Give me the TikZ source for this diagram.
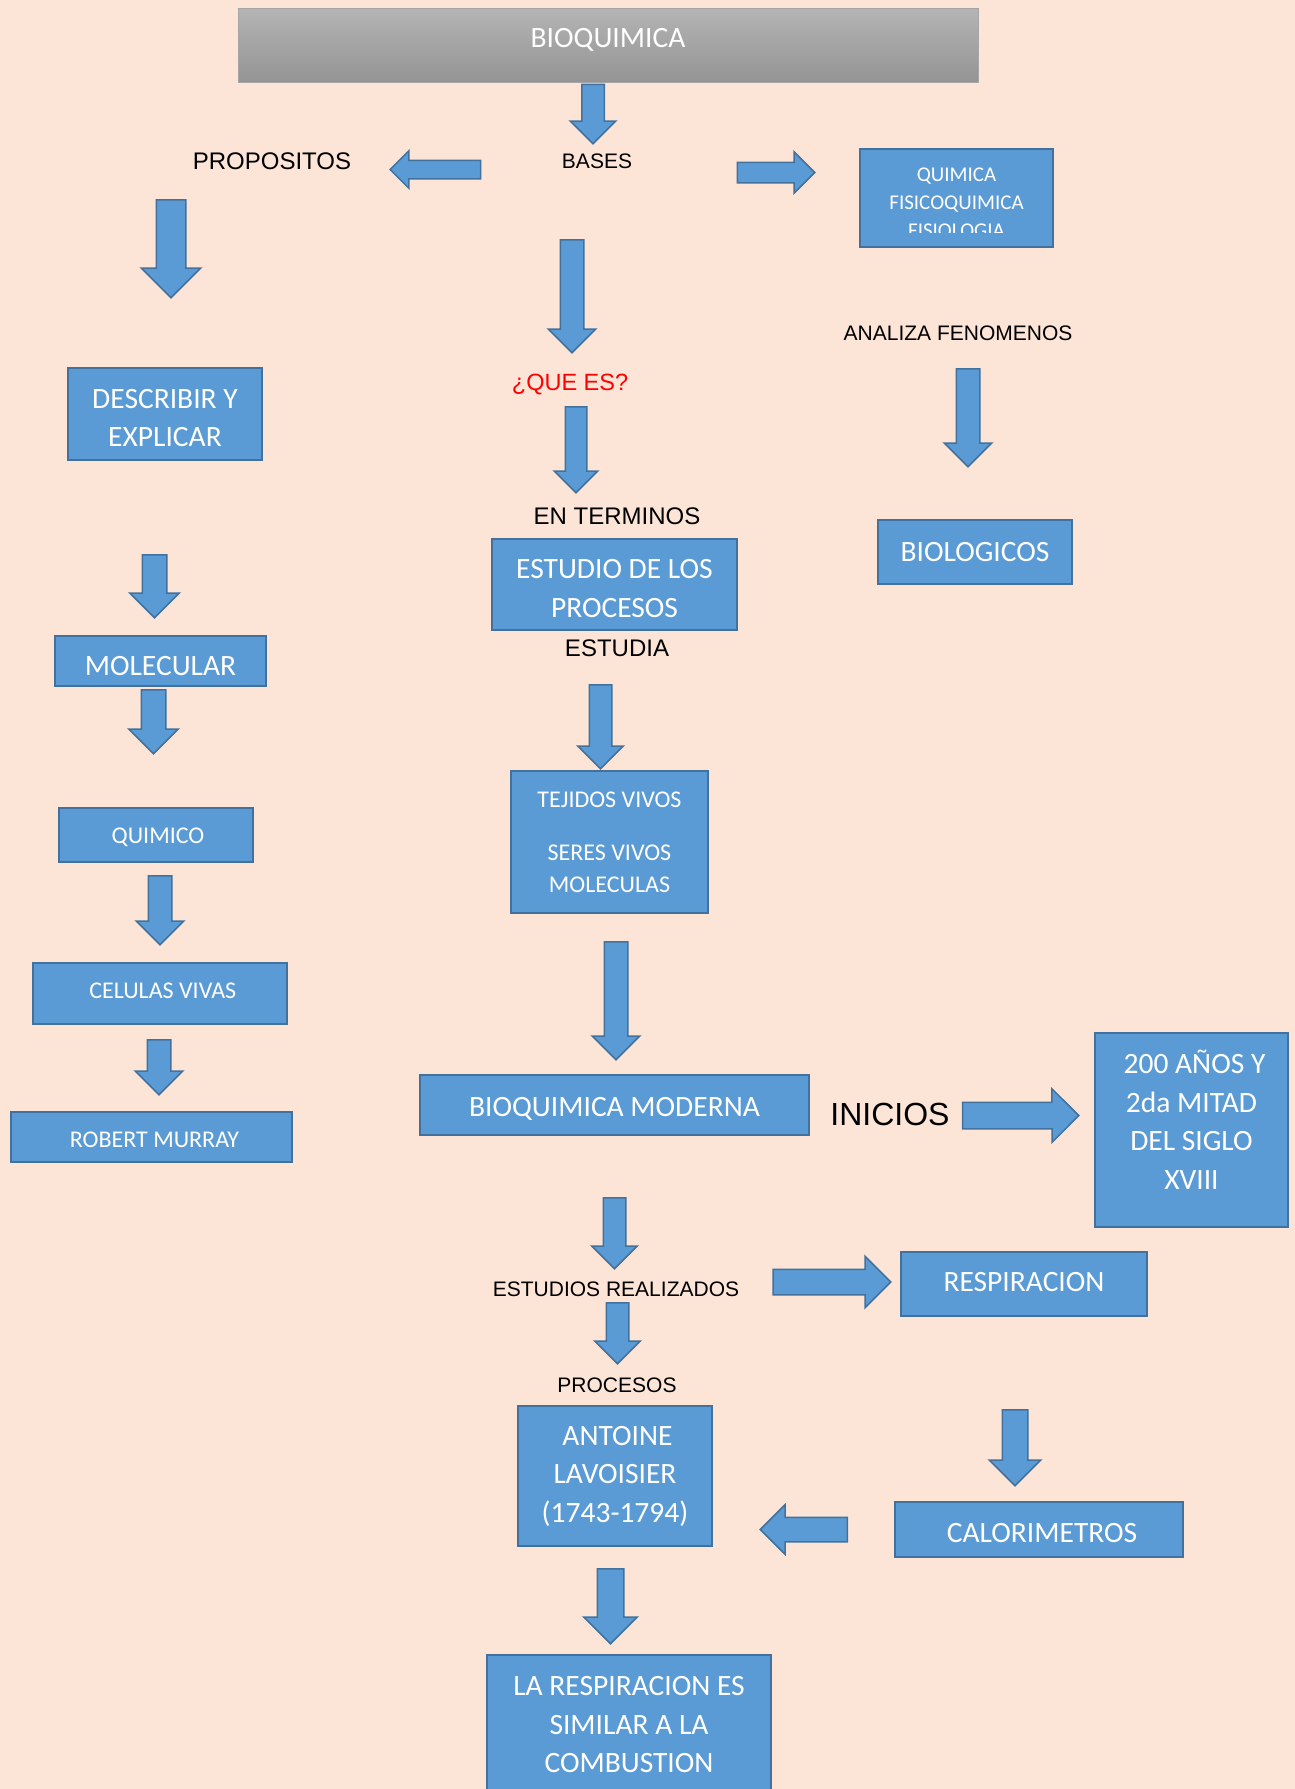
\documentclass[tikz,border=0pt]{standalone}
\usepackage{fontspec}
\newfontfamily\boxfont{Carlito}
\newfontfamily\labfont{Liberation Sans}
\usetikzlibrary{shapes.arrows, calc}

\definecolor{bgpeach}{HTML}{FCE4D6}
\definecolor{boxfill}{HTML}{5B9BD5}
\definecolor{boxline}{HTML}{41719C}
\definecolor{titletop}{HTML}{B4B4B4}
\definecolor{titlebot}{HTML}{949494}
\definecolor{titleline}{HTML}{A6A6A6}

\begin{document}
\begin{tikzpicture}[x=1pt, y=-1pt,
    bluebox/.style={rectangle, draw=boxline, fill=boxfill, line width=2pt, text=white, align=center, inner sep=0pt},
    titlebox/.style={rectangle, draw=titleline, top color=titletop, bottom color=titlebot, line width=1pt, text=white, inner sep=0pt},
    bigtxt/.style={font=\boxfont\fontsize{29.5}{38.5}\selectfont},
    smalltxt/.style={font=\boxfont\fontsize{24}{32}\selectfont},
    lab/.style={font=\labfont\fontsize{#1}{#1}\selectfont, inner sep=0pt, anchor=base},
    fatarrow/.style={single arrow, draw=boxline, fill=boxfill, line width=1.5pt, inner sep=0pt, minimum width=0pt, anchor=tail},
    fat/.style={to path={let \p1=(\tikztostart), \p2=(\tikztotarget),
        \n1={atan2(\y2-\y1,\x2-\x1)}, \n2={veclen(\x2-\x1,\y2-\y1)} in
        node[fatarrow, inner ysep={#1/2}, single arrow head extend={#1/2+1}, minimum height=\n2, rotate=\n1] at (\tikztostart) {} (\tikztotarget)}}
]

\useasboundingbox (0,0) rectangle (1295,1789);
\clip (0,0) rectangle (1295,1789);
\fill[bgpeach] (0,0) rectangle (1295,1789);

% Nodes
\node[titlebox, bigtxt, minimum width=740, minimum height=74] (title) at (608,45) {BIOQUIMICA\rule[-13.5pt]{0pt}{13.5pt}};

\node[lab=21] (bases) at (597,168.5) {BASES};
\node[lab=24] (prop) at (272,169) {PROPOSITOS};
\node[lab=21] (anal) at (958,340) {ANALIZA FENOMENOS};
\node[lab=23.5, text=red] (quees) at (570,390) {¿QUE ES?};
\node[lab=24] (term) at (617,524) {EN TERMINOS};
\node[lab=24] (estudia) at (617,656.7) {ESTUDIA};
\node[lab=32] (inicios) at (890,1125) {INICIOS};
\node[lab=21] (estr) at (616,1296.4) {ESTUDIOS REALIZADOS};
\node[lab=21] (proc) at (617,1392) {PROCESOS};

\node[bluebox, minimum width=193, minimum height=98] (quim) at (956.5,198) {};
\begin{scope}
  \clip (quim.north west) rectangle ($(quim.south east)+(0,-16)$);
  \node[text=white, align=center, inner sep=0pt, font=\boxfont\fontsize{21}{28}\selectfont] (quimtxt) at (956.5,203) {QUIMICA\\FISICOQUIMICA\\FISIOLOGIA};
\end{scope}

\node[bluebox, bigtxt, minimum width=194, minimum height=92] (desc) at (165,414) {\rule{0pt}{27pt}DESCRIBIR Y\\EXPLICAR};
\node[bluebox, bigtxt, minimum width=245, minimum height=91] (estu) at (614.5,584.5) {\rule{0pt}{27pt}ESTUDIO DE LOS\\PROCESOS};
\node[bluebox, bigtxt, minimum width=194, minimum height=64] (biol) at (975,552) {BIOLOGICOS};
\node[bluebox, bigtxt, minimum width=211, minimum height=50] (mol) at (160.5,661) {\rule{0pt}{29pt}MOLECULAR};
\node[bluebox, smalltxt, minimum width=197, minimum height=142] (tej) at (609.5,842) {TEJIDOS VIVOS\\[21pt]SERES VIVOS\\MOLECULAS};
\node[bluebox, smalltxt, minimum width=194, minimum height=54, text height=17pt, text depth=0pt] (quimico) at (156,835) {\hspace*{4pt}QUIMICO};
\node[bluebox, smalltxt, minimum width=254, minimum height=61, text depth=6pt] (cel) at (160,993.5) {\hspace*{5.5pt}CELULAS VIVAS};
\node[bluebox, smalltxt, minimum width=281, minimum height=50, text height=21.5pt] (rob) at (151.5,1137) {\hspace*{6pt}ROBERT MURRAY};
\node[bluebox, bigtxt, minimum width=389, minimum height=60, text height=22pt, text depth=0pt] (bqm) at (614.5,1105) {BIOQUIMICA MODERNA};
\node[bluebox, bigtxt, minimum width=193, minimum height=194] (siglo) at (1191.5,1130) {\hspace*{6pt}200 AÑOS Y\\2da MITAD\\DEL SIGLO\\XVIII\rule[-21pt]{0pt}{21pt}};
\node[bluebox, bigtxt, minimum width=246, minimum height=64, text depth=4.5pt] (resp) at (1024,1284) {RESPIRACION};
\node[bluebox, bigtxt, minimum width=194, minimum height=140] (lav) at (615,1476) {\hspace*{5pt}ANTOINE\\LAVOISIER\\(1743-1794)};
\node[bluebox, bigtxt, minimum width=288, minimum height=55, text height=26pt, text depth=0pt] (calo) at (1039,1529.5) {\hspace*{6pt}CALORIMETROS};
\node[bluebox, bigtxt, minimum width=284, minimum height=140] (comb) at (629,1725) {LA RESPIRACION ES\\SIMILAR A LA\\COMBUSTION};

% Arrows
\path ($(title.south)+(-15,1)$) to[fat=21] ($(bases.base)+(-4,-25.5)$);
\path ($(bases.base west)+(-80.5,1)$) to[fat=17] ($(prop.base east)+(39.5,0.5)$);
\path ($(bases.base east)+(104.5,4)$) to[fat=19] ($(quim.west)+(-45,-25.5)$);
\path ($(prop.base)+(-101,30)$) to[fat=28] ($(desc.north)+(6,-70)$);
\path ($(bases.base)+(-25,70.5)$) to[fat=22] ($(quees.base)+(2,-38)$);
\path ($(anal.base)+(10,28)$) to[fat=22] ($(biol.north)+(-7,-53)$);
\path ($(quees.base)+(6,16)$) to[fat=20] ($(term.base)+(-41,-32)$);
\path ($(desc.south)+(-10.5,93)$) to[fat=23] ($(mol.north)+(-6,-18)$);
\path ($(mol.south)+(-7,2)$) to[fat=23] ($(quimico.north)+(-2.5,-54)$);
\path ($(estudia.base)+(-16.5,27.3)$) to[fat=21] ($(tej.north)+(-9,-2)$);
\path ($(quimico.south)+(4,12)$) to[fat=22] ($(cel.north)+(0,-18)$);
\path ($(cel.south)+(-1,14)$) to[fat=22] ($(rob.north)+(7.5,-17)$);
\path ($(tej.south)+(6.5,27)$) to[fat=22] ($(bqm.north)+(1.5,-15)$);
\path ($(inicios.base east)+(12,-9.3)$) to[fat=25] ($(siglo.west)+(-16,-14.5)$);
\path ($(bqm.south)+(0,61)$) to[fat=21] ($(estr.base)+(-1.5,-28.4)$);
\path ($(estr.base east)+(33,-14.4)$) to[fat=24] ($(resp.west)+(-10,-2)$);
\path ($(estr.base)+(1.5,5.6)$) to[fat=21] ($(proc.base)+(0.5,-29)$);
\path ($(resp.south)+(-9,92)$) to[fat=24] ($(calo.north)+(-24,-16)$);
\path ($(calo.west)+(-46,0)$) to[fat=23] ($(lav.east)+(48,53.5)$);
\path ($(lav.south)+(-4.5,21)$) to[fat=25] ($(comb.north)+(-18.5,-11)$);

\end{tikzpicture}
\end{document}
